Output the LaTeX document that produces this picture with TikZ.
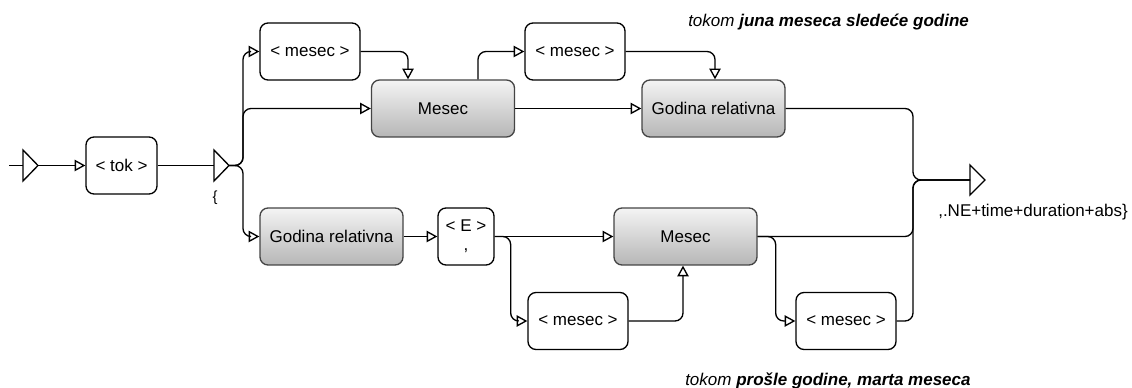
\documentclass[tikz,border=0pt]{standalone}
\usepackage{fontspec}
\setmainfont{Liberation Sans}
\usetikzlibrary{arrows.meta,calc}
\definecolor{boxline}{HTML}{444444}
\definecolor{gtop}{HTML}{F4F4F4}
\definecolor{gbot}{HTML}{B6B6B6}
\begin{document}
\begin{tikzpicture}[x=0.75pt,y=-0.75pt,
  font=\fontsize{12.75}{15.3}\selectfont,
  link/.style={line width=1pt, rounded corners=6pt},
  conn/.style={link, -{Triangle[open,length=8pt,width=8.5pt]}},
  term/.style={draw=black, line width=1pt, fill=white, rounded corners=6pt,
    minimum height=42.75pt, minimum width=75pt, inner sep=0pt},
  rulebox/.style={draw=boxline, line width=1pt, rounded corners=6pt,
    top color=gtop, bottom color=gbot, minimum height=42.75pt,
    minimum width=107.25pt, inner sep=0pt},
  gate/.style={line width=1pt, line join=miter},
  note/.style={anchor=base west, inner sep=0pt}
]
\useasboundingbox (0,0) rectangle (1132,388);

% entry, branch and exit gates
\draw[gate] (23,150) -- (38,165.5) -- (23,181) -- cycle;
\draw[gate] (214,150) -- (229,165.5) -- (214,181) -- cycle;
\draw[gate] (970,165) -- (985,180) -- (970,195) -- cycle;
\coordinate (start) at (9,165.5);
\coordinate (g1in) at (23,165.5);
\coordinate (g1out) at (38,165.5);
\coordinate (g2in) at (214,165.5);
\coordinate (g2out) at (229,165.5);
\coordinate (split) at (243,165.5);
\coordinate (join) at (913,180);
\coordinate (g3in) at (970,180);

% boxes
\node[term, minimum width=53.25pt] (tok) at (121.5,165.5) {< tok >};
\node[term] (m1) at (310,51.5) {< mesec >};
\node[rulebox] (M1) at (443,108.5) {Mesec};
\node[term] (m2) at (575,51.5) {< mesec >};
\node[rulebox] (G1) at (713.5,108.5) {Godina relativna};
\node[rulebox] (G2) at (331.5,236.5) {Godina relativna};
\node[term, minimum width=42pt, align=center] (E) at (466,236.5) {< E >\\[-1pt],};
\node[rulebox] (M2) at (685.5,236.5) {Mesec};
\node[term] (m3) at (578,321) {< mesec >};
\node[term] (m4) at (846,321) {< mesec >};

% texts
\node[font=\fontsize{11}{13}\selectfont] (brace) at (215,198) {\{};
\node[note, font=\fontsize{12.75}{15.3}\selectfont\itshape] (ex1) at (688,27)
  {tokom \textbf{juna meseca sledeće godine}};
\node[note, font=\fontsize{12.75}{15.3}\selectfont\itshape] (ex2) at (685,385)
  {tokom \textbf{prošle godine, marta meseca}};
\node[note] (tag) at (938,217) {,.NE+time+duration+abs\}};

% connectors
\draw[link] (start) -- (g1in);
\draw[conn] (g1out) -- (tok.west);
\draw[link] (tok.east) -- (g2in);
\draw[conn] (g2out) -- (split) |- (m1.west);
\draw[conn] (g2out) -- (split) |- (M1.west);
\draw[conn] (g2out) -- (split) |- (G2.west);
\draw[conn] (m1.east) -| ($(M1.north)+(-35,0)$);
\draw[conn] ($(M1.north)+(35,0)$) |- (m2.west);
\draw[conn] (m2.east) -| ($(G1.north)+(1.5,0)$);
\draw[conn] (M1.east) -- (G1.west);
\draw[link] (G1.east) -| (join) -- (g3in);
\draw[conn] (G2.east) -- (E.west);
\draw[conn] (E.east) -- (M2.west);
\draw[conn] (E.east) -- ($(E.east)+(16,0)$) |- (m3.west);
\draw[conn] (m3.east) -| ($(M2.south)+(-2.5,0)$);
\draw[link] (M2.east) -| (join) -- (g3in);
\draw[conn] (M2.east) -- ($(M2.east)+(18,0)$) |- (m4.west);
\draw[link] (m4.east) -| (join) -- (g3in);
\end{tikzpicture}
\end{document}
